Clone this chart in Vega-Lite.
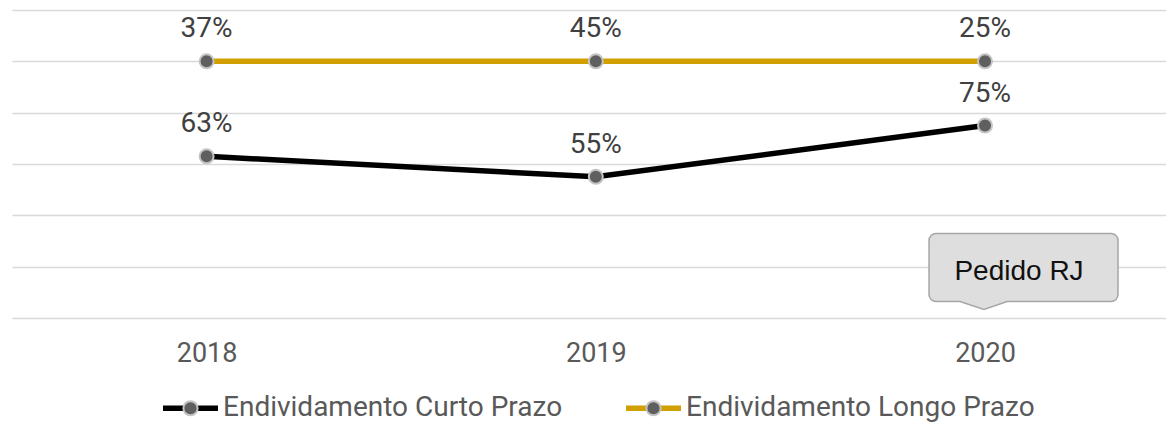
{
  "$schema": "https://vega.github.io/schema/vega-lite/v6.json",
  "width": 1154,
  "height": 308,
  "autosize": {"type": "none"},
  "padding": {"left": 12, "top": 10, "right": 0, "bottom": 106},
  "background": "white",
  "config": {"view": {"stroke": null}, "font": "Roboto"},
  "layer": [
    {
      "data": {
        "values": [
          {"ano": 2018, "serie": "Endividamento Curto Prazo", "valor": 0.63},
          {"ano": 2019, "serie": "Endividamento Curto Prazo", "valor": 0.55},
          {"ano": 2020, "serie": "Endividamento Curto Prazo", "valor": 0.75},
          {"ano": 2018, "serie": "Endividamento Longo Prazo", "valor": 0.37},
          {"ano": 2019, "serie": "Endividamento Longo Prazo", "valor": 0.45},
          {"ano": 2020, "serie": "Endividamento Longo Prazo", "valor": 0.25}
        ]
      },
      "transform": [
        {"stack": "valor", "groupby": ["ano"], "sort": [{"field": "serie", "order": "ascending"}], "as": ["y0", "y1"]}
      ],
      "layer": [
        {
          "mark": {"type": "line", "strokeWidth": 5.5, "strokeCap": "butt"},
          "encoding": {
            "x": {
              "field": "ano", "type": "quantitative",
              "scale": {"domain": [2017.5, 2020.465], "nice": false, "zero": false},
              "axis": {"title": null, "values": [2018, 2019, 2020], "format": "d", "grid": false, "ticks": false, "domain": false, "labelFontSize": 27, "labelColor": "#595959", "labelFont": "Roboto", "labelPadding": 22}
            },
            "y": {
              "field": "y1", "type": "quantitative", "stack": null,
              "scale": {"domain": [0, 1.2], "nice": false},
              "axis": {"title": null, "labels": false, "ticks": false, "domain": false, "grid": true, "values": [0, 0.2, 0.4, 0.6, 0.8, 1, 1.2], "gridColor": "#d9d9d9", "gridWidth": 1.5}
            },
            "color": {
              "field": "serie", "type": "nominal",
              "scale": {"range": ["#000000", "#D29F00"]},
              "legend": {"title": null, "orient": "none", "legendX": 148, "legendY": 367.5, "direction": "horizontal", "symbolType": "M-1,0H1", "symbolSize": 3025, "symbolStrokeWidth": 5.5, "symbolFillColor": "transparent", "labelFont": "Roboto", "labelFontSize": 28, "labelColor": "#595959", "labelOffset": 2, "labelLimit": 0, "columnPadding": 52, "padding": 0}
            }
          }
        },
        {
          "mark": {"type": "point", "filled": true, "shape": "circle", "size": 196, "stroke": "#c4c4c4", "strokeWidth": 2, "opacity": 1},
          "encoding": {
            "x": {"field": "ano", "type": "quantitative"},
            "y": {"field": "y1", "type": "quantitative", "stack": null},
            "fill": {
              "field": "serie", "type": "nominal",
              "scale": {"domain": ["Endividamento Curto Prazo", "Endividamento Longo Prazo"], "range": ["#5f5f5f", "#5f5f5f"]},
              "legend": {"title": null, "orient": "none", "legendX": 148, "legendY": 367.5, "direction": "horizontal", "symbolType": "M-0.2414,0A0.2414,0.2414,0,1,1,0.2414,0A0.2414,0.2414,0,1,1,-0.2414,0Z", "symbolSize": 3481, "symbolStrokeWidth": 2, "symbolStrokeColor": "#c4c4c4", "labelExpr": "''", "labelFont": "Roboto", "labelFontSize": 28, "labelOffset": 2, "labelLimit": 0, "columnPadding": 400, "padding": 0}
            }
          }
        },
        {
          "mark": {"type": "text", "dy": -24, "baseline": "alphabetic", "align": "center", "fontSize": 28, "font": "Roboto", "color": "#404040"},
          "encoding": {
            "x": {"field": "ano", "type": "quantitative"},
            "y": {"field": "y1", "type": "quantitative", "stack": null},
            "text": {"field": "valor", "type": "quantitative", "format": ".0%"}
          }
        }
      ]
    },
    {
      "data": {"values": [{"ano": 2020, "valor": 0.2, "nota": "Pedido RJ"}]},
      "layer": [
        {
          "mark": {"type": "point", "filled": true, "opacity": 1, "size": 40000, "fill": "#dedede", "stroke": "#a6a6a6", "strokeWidth": 1.5, "shape": "M-0.49,-0.332H1.26A0.07,0.07,0,0,1,1.33,-0.262V0.278A0.07,0.07,0,0,1,1.26,0.348H0.22L-0.01,0.428L-0.25,0.348H-0.49A0.07,0.07,0,0,1,-0.56,0.278V-0.262A0.07,0.07,0,0,1,-0.49,-0.332Z"},
          "encoding": {
            "x": {"field": "ano", "type": "quantitative"},
            "y": {"field": "valor", "type": "quantitative", "stack": null}
          }
        },
        {
          "mark": {"type": "text", "dx": 34, "dy": 13, "baseline": "alphabetic", "align": "center", "fontSize": 28, "font": "Liberation Sans", "color": "#111111"},
          "encoding": {
            "x": {"field": "ano", "type": "quantitative"},
            "y": {"field": "valor", "type": "quantitative", "stack": null},
            "text": {"field": "nota", "type": "nominal"}
          }
        }
      ]
    }
  ]
}
